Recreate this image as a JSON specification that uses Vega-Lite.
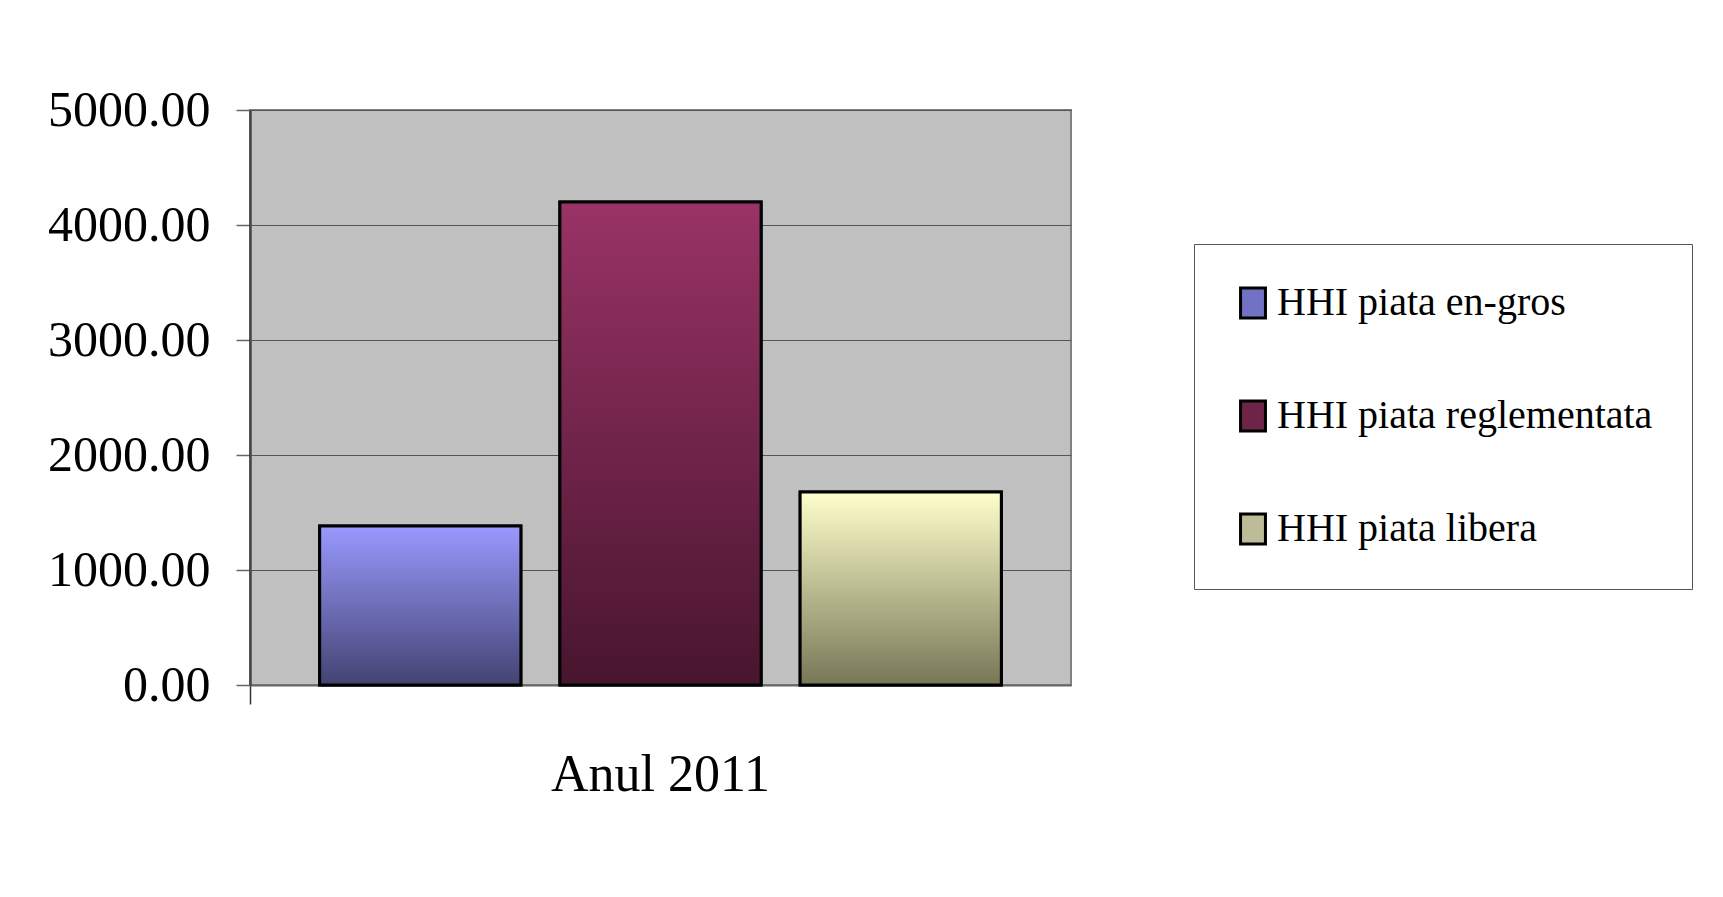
{
  "$schema": "https://vega.github.io/schema/vega-lite/v6.json",
  "width": 821,
  "height": 575,
  "autosize": "none",
  "padding": {"left": 250, "top": 110, "right": 652, "bottom": 212},
  "background": "white",
  "config": {
    "view": {"fill": "#c0c0c0", "stroke": "#808080", "strokeWidth": 2},
    "font": "Liberation Serif"
  },
  "data": {
    "values": [
      {"an": "Anul 2011", "serie": "HHI piata en-gros", "hhi": 1383},
      {"an": "Anul 2011", "serie": "HHI piata reglementata", "hhi": 4200},
      {"an": "Anul 2011", "serie": "HHI piata libera", "hhi": 1678}
    ]
  },
  "encoding": {
    "x": {
      "field": "an",
      "type": "nominal",
      "title": null,
      "scale": {"paddingInner": 0, "paddingOuter": 0},
      "axis": {
        "labelAngle": 0,
        "labelFont": "Liberation Serif",
        "labelFontSize": 52,
        "labelColor": "black",
        "labelLimit": 1000,
        "labelPadding": 45,
        "tickSize": 19,
        "tickColor": "#333333",
        "tickWidth": 1.5,
        "bandPosition": 0,
        "domainColor": "#666666",
        "domainWidth": 2
      }
    },
    "xOffset": {
      "field": "serie",
      "type": "nominal",
      "sort": ["HHI piata en-gros", "HHI piata reglementata", "HHI piata libera"],
      "scale": {"paddingInner": 0.1625, "paddingOuter": 0.29}
    },
    "y": {
      "field": "hhi",
      "type": "quantitative",
      "title": null,
      "scale": {"domain": [0, 5000], "nice": false},
      "axis": {
        "values": [0, 1000, 2000, 3000, 4000, 5000],
        "format": ".2f",
        "labelFont": "Liberation Serif",
        "labelFontSize": 50,
        "labelColor": "black",
        "labelPadding": 26,
        "tickSize": 14,
        "tickColor": "#666666",
        "tickWidth": 1.5,
        "domainColor": "#444444",
        "domainWidth": 2.5,
        "gridColor": "#555555",
        "gridWidth": 1.2
      }
    }
  },
  "layer": [
    {
      "mark": {"type": "bar", "strokeWidth": 3},
      "encoding": {
        "fill": {
          "field": "serie",
          "type": "nominal",
          "sort": ["HHI piata en-gros", "HHI piata reglementata", "HHI piata libera"],
          "scale": {
            "domain": ["HHI piata en-gros", "HHI piata reglementata", "HHI piata libera"],
            "range": ["#7272c4", "#6e2449", "#bcbc98"]
          },
          "legend": {
            "title": null,
            "orient": "none",
            "legendX": 944,
            "legendY": 134,
            "padding": 39,
            "strokeColor": "#555555",
            "fillColor": "white",
            "labelFont": "Liberation Serif",
            "labelFontSize": 40,
            "labelColor": "black",
            "labelOffset": 4,
            "labelLimit": 600,
            "rowPadding": 71,
            "symbolType": "M-0.83,-1H0.83V1H-0.83Z",
            "symbolSize": 900,
            "symbolStrokeWidth": 3,
            "symbolOpacity": 1
          }
        },
        "stroke": {
          "field": "serie",
          "type": "nominal",
          "sort": ["HHI piata en-gros", "HHI piata reglementata", "HHI piata libera"],
          "scale": {
            "domain": ["HHI piata en-gros", "HHI piata reglementata", "HHI piata libera"],
            "range": ["black", "black", "black"]
          },
          "legend": {
            "title": null,
            "orient": "none",
            "legendX": 944,
            "legendY": 134,
            "padding": 39,
            "strokeColor": "#555555",
            "fillColor": "white",
            "labelFont": "Liberation Serif",
            "labelFontSize": 40,
            "labelColor": "black",
            "labelOffset": 4,
            "labelLimit": 600,
            "rowPadding": 71,
            "symbolType": "M-0.83,-1H0.83V1H-0.83Z",
            "symbolSize": 900,
            "symbolStrokeWidth": 3,
            "symbolOpacity": 1
          }
        }
      }
    },
    {
      "transform": [{"filter": "datum.serie === 'HHI piata en-gros'"}],
      "mark": {
        "type": "bar", "stroke": "black", "strokeWidth": 3,
        "fill": {"gradient": "linear", "x1": 0, "y1": 0, "x2": 0, "y2": 1, "stops": [{"offset": 0, "color": "#9999ff"}, {"offset": 1, "color": "#434372"}]}
      }
    },
    {
      "transform": [{"filter": "datum.serie === 'HHI piata reglementata'"}],
      "mark": {
        "type": "bar", "stroke": "black", "strokeWidth": 3,
        "fill": {"gradient": "linear", "x1": 0, "y1": 0, "x2": 0, "y2": 1, "stops": [{"offset": 0, "color": "#993366"}, {"offset": 1, "color": "#48152e"}]}
      }
    },
    {
      "transform": [{"filter": "datum.serie === 'HHI piata libera'"}],
      "mark": {
        "type": "bar", "stroke": "black", "strokeWidth": 3,
        "fill": {"gradient": "linear", "x1": 0, "y1": 0, "x2": 0, "y2": 1, "stops": [{"offset": 0, "color": "#ffffcc"}, {"offset": 1, "color": "#777757"}]}
      }
    }
  ]
}
